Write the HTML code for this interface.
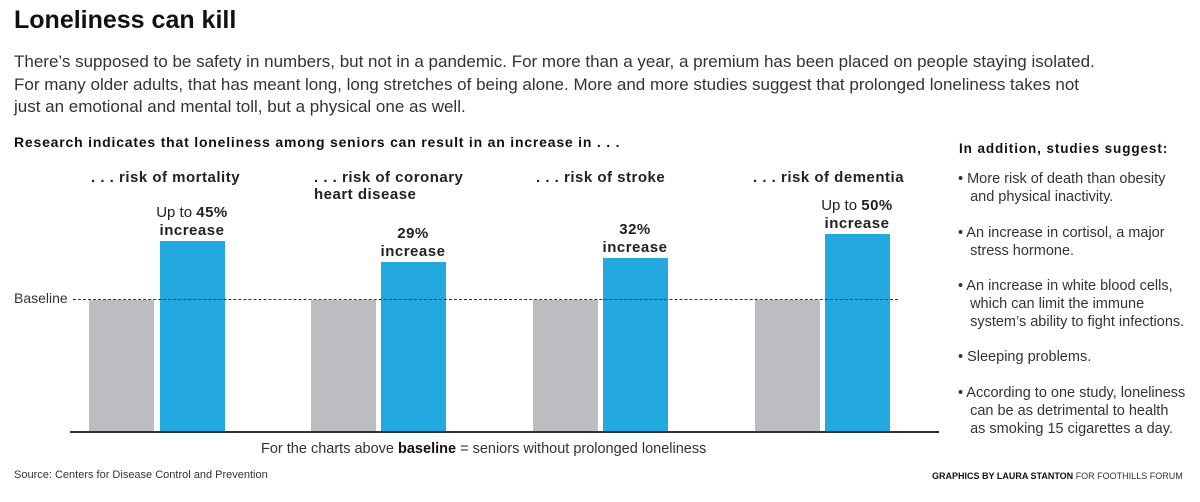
<!DOCTYPE html>
<html><head><meta charset="utf-8"><style>
body{margin:0;width:1200px;height:502px;background:#fff;position:relative;font-family:"Liberation Sans",sans-serif;color:#222;overflow:hidden}
.a{position:absolute;white-space:nowrap}
.b{font-weight:bold}
.g{position:absolute;background:#bcbdc0;width:65px;top:300px;height:132px}
.bl{position:absolute;background:#23a8e0;width:65px}
.lab{position:absolute;text-align:center;font-size:15px;line-height:18px;width:100px}
.lab b{letter-spacing:0.5px}
.h{font-size:15px;font-weight:bold;line-height:17px;letter-spacing:0.5px}
.r{font-size:14.5px;line-height:18px;color:#333}
</style></head><body>
<div class="a b" style="left:14px;top:6px;font-size:25px;color:#111">Loneliness can kill</div>
<div class="a" style="left:14px;top:51px;font-size:17px;line-height:22.5px;color:#333">There’s supposed to be safety in numbers, but not in a pandemic. For more than a year, a premium has been placed on people staying isolated.<br>For many older adults, that has meant long, long stretches of being alone. More and more studies suggest that prolonged loneliness takes not<br>just an emotional and mental toll, but a physical one as well.</div>
<div class="a b" style="left:14px;top:134px;font-size:14px;letter-spacing:0.8px;color:#111">Research indicates that loneliness among seniors can result in an increase in . . .</div>
<div class="a h" style="left:91px;top:169px">. . . risk of mortality</div>
<div class="a h" style="left:314px;top:169px">. . . risk of coronary<br>heart disease</div>
<div class="a h" style="left:536px;top:169px">. . . risk of stroke</div>
<div class="a h" style="left:753px;top:169px">. . . risk of dementia</div>
<div class="lab" style="left:142px;top:204px">Up to <b>45%</b><br><b>increase</b></div>
<div class="lab" style="left:363px;top:225px"><b>29%</b><br><b>increase</b></div>
<div class="lab" style="left:585px;top:221px"><b>32%</b><br><b>increase</b></div>
<div class="lab" style="left:807px;top:197px">Up to <b>50%</b><br><b>increase</b></div>
<div class="g" style="left:89px"></div><div class="bl" style="left:160px;top:241px;height:191px"></div>
<div class="g" style="left:311px"></div><div class="bl" style="left:381px;top:262px;height:170px"></div>
<div class="g" style="left:533px"></div><div class="bl" style="left:603px;top:258px;height:174px"></div>
<div class="g" style="left:755px"></div><div class="bl" style="left:825px;top:234px;height:198px"></div>
<div class="a" style="left:73px;top:299px;width:825px;border-top:1px dashed #333"></div>
<div class="a" style="left:14px;top:290px;font-size:14px;color:#333">Baseline</div>
<div class="a" style="left:70px;top:431px;width:869px;height:2px;background:#333"></div>
<div class="a" style="left:261px;top:441px;font-size:14.5px;color:#333">For the charts above <b style="color:#111">baseline</b> = seniors without prolonged loneliness</div>
<div class="a" style="left:14px;top:469px;font-size:11px;color:#333">Source: Centers for Disease Control and Prevention</div>
<div class="a" style="left:932px;top:471px;font-size:9px;color:#333"><b style="color:#111">GRAPHICS BY LAURA STANTON</b> FOR FOOTHILLS FORUM</div>
<div class="a b" style="left:959px;top:141px;font-size:13.5px;letter-spacing:0.9px;color:#111">In addition, studies suggest:</div>
<div class="a r" style="left:958px;top:170px">• More risk of death than obesity<br>&nbsp;&nbsp;&nbsp;and physical inactivity.</div>
<div class="a r" style="left:958px;top:224px">• An increase in cortisol, a major<br>&nbsp;&nbsp;&nbsp;stress hormone.</div>
<div class="a r" style="left:958px;top:277px">• An increase in white blood cells,<br>&nbsp;&nbsp;&nbsp;which can limit the immune<br>&nbsp;&nbsp;&nbsp;system’s ability to fight infections.</div>
<div class="a r" style="left:958px;top:348px">• Sleeping problems.</div>
<div class="a r" style="left:958px;top:384px">• According to one study, loneliness<br>&nbsp;&nbsp;&nbsp;can be as detrimental to health<br>&nbsp;&nbsp;&nbsp;as smoking 15 cigarettes a day.</div>
</body></html>
